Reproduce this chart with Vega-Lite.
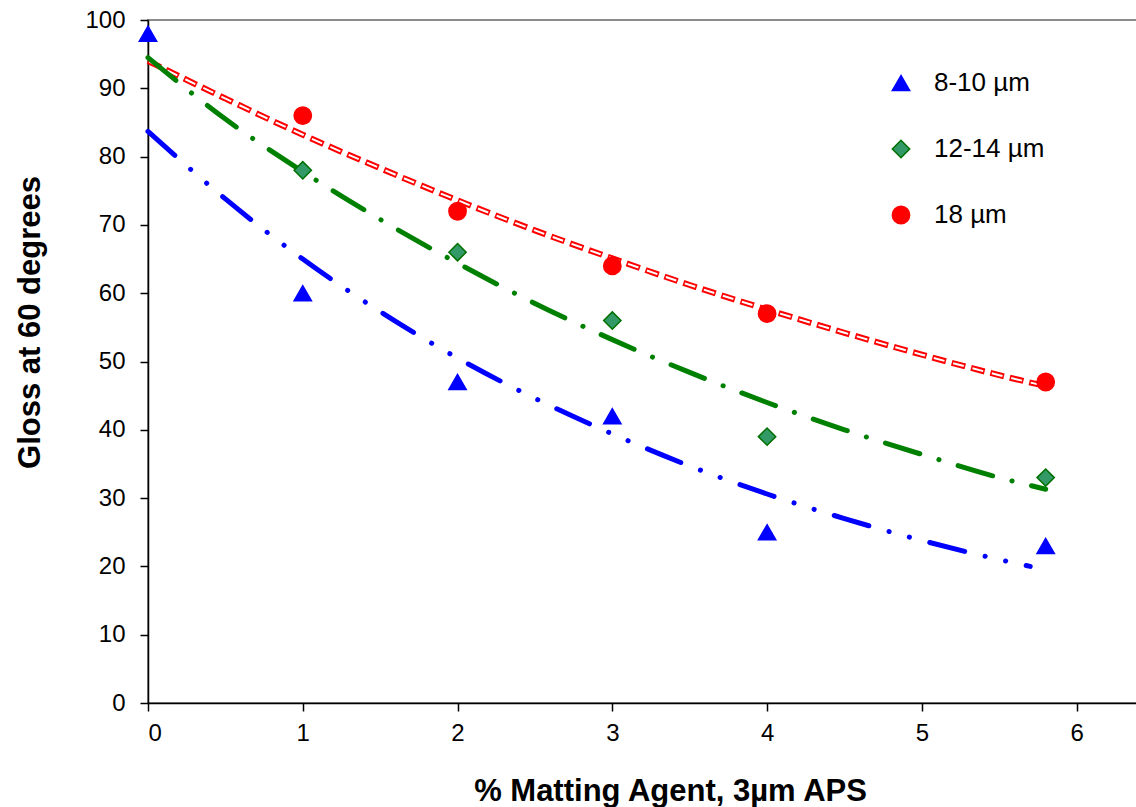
{
  "$schema": "https://vega.github.io/schema/vega-lite/v6.json",
  "width": 989,
  "height": 683,
  "autosize": {"type": "none"},
  "padding": {"left": 148, "top": 20, "right": 0, "bottom": 104},
  "background": "white",
  "config": {
    "view": {"stroke": "#8c8c8c", "strokeWidth": 2},
    "font": "Liberation Sans"
  },
  "datasets": {
    "points": [
      {"series": "8-10 µm", "x": 0, "y": 98},
      {"series": "8-10 µm", "x": 1, "y": 60},
      {"series": "8-10 µm", "x": 2, "y": 47},
      {"series": "8-10 µm", "x": 3, "y": 42},
      {"series": "8-10 µm", "x": 4, "y": 25},
      {"series": "8-10 µm", "x": 5.8, "y": 23},
      {"series": "12-14 µm", "x": 1, "y": 78},
      {"series": "12-14 µm", "x": 2, "y": 66},
      {"series": "12-14 µm", "x": 3, "y": 56},
      {"series": "12-14 µm", "x": 4, "y": 39},
      {"series": "12-14 µm", "x": 5.8, "y": 33},
      {"series": "18 µm", "x": 1, "y": 86},
      {"series": "18 µm", "x": 2, "y": 72},
      {"series": "18 µm", "x": 3, "y": 64},
      {"series": "18 µm", "x": 4, "y": 57},
      {"series": "18 µm", "x": 5.8, "y": 47}
    ],
    "trend": [
      {"series": "18 µm", "x": 0, "y": 94},
      {"series": "18 µm", "x": 0.5, "y": 88.5},
      {"series": "18 µm", "x": 1, "y": 83.2},
      {"series": "18 µm", "x": 1.5, "y": 78.3},
      {"series": "18 µm", "x": 2, "y": 73.6},
      {"series": "18 µm", "x": 2.5, "y": 69.2},
      {"series": "18 µm", "x": 3, "y": 65.1},
      {"series": "18 µm", "x": 3.5, "y": 61.2},
      {"series": "18 µm", "x": 4, "y": 57.6},
      {"series": "18 µm", "x": 4.5, "y": 54.2},
      {"series": "18 µm", "x": 5, "y": 51},
      {"series": "18 µm", "x": 5.5, "y": 48},
      {"series": "18 µm", "x": 5.8, "y": 46.4},
      {"series": "12-14 µm", "x": 0, "y": 94.5},
      {"series": "12-14 µm", "x": 0.5, "y": 85.5},
      {"series": "12-14 µm", "x": 1, "y": 77.8},
      {"series": "12-14 µm", "x": 1.5, "y": 70.8},
      {"series": "12-14 µm", "x": 2, "y": 64.4},
      {"series": "12-14 µm", "x": 2.5, "y": 58.5},
      {"series": "12-14 µm", "x": 3, "y": 53.2},
      {"series": "12-14 µm", "x": 3.5, "y": 48.4},
      {"series": "12-14 µm", "x": 4, "y": 44},
      {"series": "12-14 µm", "x": 4.5, "y": 40},
      {"series": "12-14 µm", "x": 5, "y": 36.4},
      {"series": "12-14 µm", "x": 5.5, "y": 33},
      {"series": "12-14 µm", "x": 5.8, "y": 31.3},
      {"series": "8-10 µm", "x": 0, "y": 83.7},
      {"series": "8-10 µm", "x": 0.5, "y": 73.8},
      {"series": "8-10 µm", "x": 1, "y": 65},
      {"series": "8-10 µm", "x": 1.5, "y": 57.3},
      {"series": "8-10 µm", "x": 2, "y": 50.5},
      {"series": "8-10 µm", "x": 2.5, "y": 44.6},
      {"series": "8-10 µm", "x": 3, "y": 39.4},
      {"series": "8-10 µm", "x": 3.5, "y": 34.7},
      {"series": "8-10 µm", "x": 4, "y": 30.6},
      {"series": "8-10 µm", "x": 4.5, "y": 27},
      {"series": "8-10 µm", "x": 5, "y": 23.8},
      {"series": "8-10 µm", "x": 5.5, "y": 21},
      {"series": "8-10 µm", "x": 5.7, "y": 20}
    ]
  },
  "encoding": {
    "x": {
      "field": "x", "type": "quantitative",
      "scale": {"domain": [0, 6.39], "nice": false, "zero": false},
      "axis": {
        "values": [0, 1, 2, 3, 4, 5, 6],
        "grid": false,
        "domainColor": "black", "domainWidth": 1.5,
        "tickColor": "black", "tickWidth": 1.5, "tickSize": 8,
        "labelFontSize": 24, "labelColor": "black", "labelPadding": 10,
        "title": "% Matting Agent, 3µm APS",
        "titleFontSize": 31, "titleFontWeight": "bold", "titleColor": "black",
        "titleX": 522, "titleY": 97, "titleAlign": "center", "titleBaseline": "alphabetic"
      }
    },
    "y": {
      "field": "y", "type": "quantitative",
      "scale": {"domain": [0, 100], "nice": false},
      "axis": {
        "values": [0, 10, 20, 30, 40, 50, 60, 70, 80, 90, 100],
        "grid": false,
        "domainColor": "black", "domainWidth": 1.5,
        "tickColor": "black", "tickWidth": 1.5, "tickSize": 8,
        "labelFontSize": 24, "labelColor": "black", "labelPadding": 15,
        "title": "Gloss at 60 degrees",
        "titleFontSize": 31, "titleFontWeight": "bold", "titleColor": "black",
        "titleAngle": -90, "titleX": -109, "titleY": 302, "titleAlign": "center", "titleBaseline": "alphabetic"
      }
    }
  },
  "layer": [
    {
      "data": {"name": "trend"},
      "transform": [{"filter": "datum.series === '18 µm'"}],
      "mark": {"type": "line", "stroke": "#ff0000", "strokeWidth": 6, "strokeDash": [14, 6], "interpolate": "monotone"}
    },
    {
      "data": {"name": "trend"},
      "transform": [{"filter": "datum.series === '18 µm'"}],
      "mark": {"type": "line", "stroke": "#ffffff", "strokeWidth": 2, "strokeDash": [11, 9], "strokeDashOffset": -1.5, "interpolate": "monotone"}
    },
    {
      "data": {"name": "trend"},
      "transform": [{"filter": "datum.series === '12-14 µm'"}],
      "mark": {"type": "line", "stroke": "#008000", "strokeWidth": 5, "strokeCap": "round", "strokeDash": [36, 20, 0.1, 20], "interpolate": "monotone"}
    },
    {
      "data": {"name": "trend"},
      "transform": [{"filter": "datum.series === '8-10 µm'"}],
      "mark": {"type": "line", "stroke": "#0000ff", "strokeWidth": 5, "strokeCap": "round", "strokeDash": [36, 21, 0.1, 21, 0.1, 21], "interpolate": "monotone"}
    },
    {
      "data": {"name": "points"},
      "mark": {"type": "point", "filled": true, "size": 300, "strokeWidth": 1.5, "opacity": 1},
      "encoding": {
        "shape": {
          "field": "series", "type": "nominal",
          "scale": {"domain": ["8-10 µm", "12-14 µm", "18 µm"], "range": ["triangle-up", "diamond", "circle"]},
          "legend": {"title": null, "orient": "none", "legendX": 740, "legendY": 50, "padding": 0, "labelFontSize": 26, "labelColor": "black", "labelOffset": 20, "rowPadding": 40, "symbolSize": 300, "symbolStrokeWidth": 1.5}
        },
        "fill": {
          "field": "series", "type": "nominal",
          "scale": {"domain": ["8-10 µm", "12-14 µm", "18 µm"], "range": ["#0000ff", "#339966", "#ff0000"]},
          "legend": {"title": null, "orient": "none", "legendX": 740, "legendY": 50, "padding": 0, "labelFontSize": 26, "labelColor": "black", "labelOffset": 20, "rowPadding": 40, "symbolSize": 300, "symbolStrokeWidth": 1.5}
        },
        "stroke": {
          "field": "series", "type": "nominal",
          "scale": {"domain": ["8-10 µm", "12-14 µm", "18 µm"], "range": ["#0000ff", "#007000", "#ff0000"]},
          "legend": {"title": null, "orient": "none", "legendX": 740, "legendY": 50, "padding": 0, "labelFontSize": 26, "labelColor": "black", "labelOffset": 20, "rowPadding": 40, "symbolSize": 300, "symbolStrokeWidth": 1.5}
        }
      }
    }
  ]
}
